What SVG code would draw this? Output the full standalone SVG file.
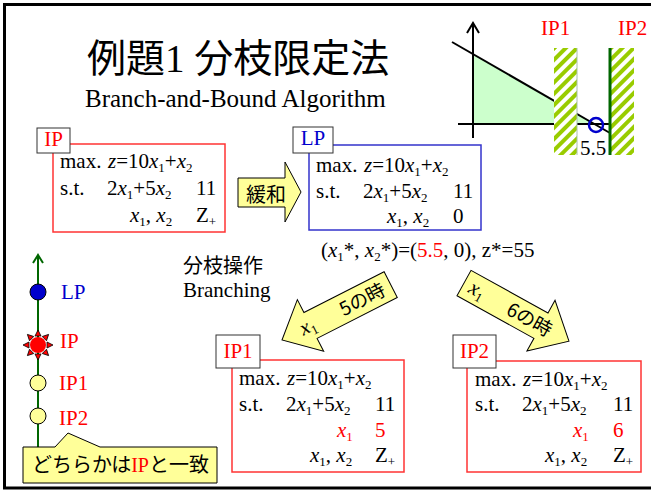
<svg xmlns="http://www.w3.org/2000/svg" width="651" height="490" viewBox="0 0 651 490">
<style>
.serif{font-family:"Liberation Serif","Times New Roman",serif}
.jp{font-family:"Noto Sans CJK JP","Noto Sans CJK SC",sans-serif}
.f{font-family:"Liberation Serif","Times New Roman",serif;font-size:21px;fill:#000}
.i{font-style:italic}
.sb{font-size:13px;font-style:normal}
.red{fill:#ff0000}
.blue{fill:#0000cc}
.boxr{fill:#fff;stroke:#ff3333;stroke-width:1.5}
.boxb{fill:#fff;stroke:#3333cc;stroke-width:1.5}
.lbl{fill:#fff;stroke:#333;stroke-width:1}
.yel{fill:#ffff99;stroke:#000;stroke-width:1}
.ax{stroke:#000;stroke-width:2;fill:none}
</style>
<defs>
<pattern id="hatch" width="8" height="8" patternUnits="userSpaceOnUse" patternTransform="rotate(45)">
<rect width="8" height="8" fill="#fff"/>
<rect width="4" height="8" fill="#99cc00"/>
</pattern>
</defs>
<rect x="0" y="0" width="651" height="490" fill="#fff"/>
<rect x="4.5" y="4.5" width="660" height="483.5" fill="none" stroke="#000" stroke-width="3"/>

<g id="title">
<text x="87" y="72" class="jp" font-size="39">例題<tspan class="serif">1 </tspan>分枝限定法</text>
<text x="85" y="107" class="serif" font-size="25">Branch-and-Bound Algorithm</text>
</g>

<g id="graph">
<polygon points="473,54 594,124 473,124" fill="#ccffcc"/>
<line x1="452" y1="42" x2="610" y2="133" class="ax"/>
<line x1="458" y1="124" x2="610" y2="124" class="ax"/>
<line x1="473" y1="23" x2="473" y2="138" class="ax"/>
<polyline points="467,33 473,23 479,33" class="ax"/>
<rect x="554" y="48" width="23" height="107" fill="url(#hatch)"/>
<line x1="577" y1="48" x2="577" y2="155" stroke="#a8c0a8" stroke-width="1"/>
<rect x="611" y="48" width="23" height="107" fill="url(#hatch)"/>
<line x1="610" y1="48" x2="610" y2="155" stroke="#006600" stroke-width="3"/>
<circle cx="596" cy="125" r="7" fill="none" stroke="#0000cc" stroke-width="2.5"/>
<text x="580" y="155" class="f" font-size="20">5.5</text>
<text x="541" y="35" class="f red" font-size="20">IP1</text>
<text x="618" y="35" class="f red" font-size="20">IP2</text>
</g>

<g id="node-IP">
<rect x="53" y="144" width="172" height="88" class="boxr"/>
<rect x="37" y="128" width="33" height="25" class="lbl"/>
<text x="53.5" y="146" class="f red" text-anchor="middle">IP</text>
<text x="60" y="168" class="f">max.</text>
<text x="108" y="168" class="f"><tspan class="i">z</tspan>=10<tspan class="i">x</tspan><tspan class="sb" dy="4">1</tspan><tspan dy="-4">+</tspan><tspan class="i">x</tspan><tspan class="sb" dy="4">2</tspan></text>
<text x="60" y="195" class="f">s.t.</text>
<text x="107" y="195" class="f">2<tspan class="i">x</tspan><tspan class="sb" dy="4">1</tspan><tspan dy="-4">+5</tspan><tspan class="i">x</tspan><tspan class="sb" dy="4">2</tspan></text>
<text x="196" y="195" class="f">11</text>
<text x="130" y="222" class="f"><tspan class="i">x</tspan><tspan class="sb" dy="4">1</tspan><tspan dy="-4">, </tspan><tspan class="i">x</tspan><tspan class="sb" dy="4">2</tspan></text>
<text x="196" y="222" class="f">Z<tspan class="sb" dy="4">+</tspan></text>
</g>

<g id="node-LP">
<rect x="309" y="145" width="172" height="85" class="boxb"/>
<rect x="293" y="127" width="40" height="26" class="lbl"/>
<text x="313" y="145" class="f blue" text-anchor="middle">LP</text>
<text x="316" y="172" class="f">max.</text>
<text x="364" y="172" class="f"><tspan class="i">z</tspan>=10<tspan class="i">x</tspan><tspan class="sb" dy="4">1</tspan><tspan dy="-4">+</tspan><tspan class="i">x</tspan><tspan class="sb" dy="4">2</tspan></text>
<text x="316" y="198" class="f">s.t.</text>
<text x="363" y="198" class="f">2<tspan class="i">x</tspan><tspan class="sb" dy="4">1</tspan><tspan dy="-4">+5</tspan><tspan class="i">x</tspan><tspan class="sb" dy="4">2</tspan></text>
<text x="453" y="198" class="f">11</text>
<text x="387" y="223" class="f"><tspan class="i">x</tspan><tspan class="sb" dy="4">1</tspan><tspan dy="-4">, </tspan><tspan class="i">x</tspan><tspan class="sb" dy="4">2</tspan></text>
<text x="453" y="223" class="f">0</text>
<text x="321" y="257" class="f">(<tspan class="i">x</tspan><tspan class="sb" dy="4">1</tspan><tspan dy="-4">*, </tspan><tspan class="i">x</tspan><tspan class="sb" dy="4">2</tspan><tspan dy="-4">*)=(</tspan><tspan class="red">5.5</tspan>, 0), z*=55</text>
</g>

<g id="node-IP1">
<rect x="232" y="360" width="172" height="112" class="boxr"/>
<rect x="216" y="335" width="44" height="33" class="lbl"/>
<text x="238" y="358" class="f red" text-anchor="middle">IP1</text>
<text x="239" y="385" class="f">max.</text>
<text x="287" y="385" class="f"><tspan class="i">z</tspan>=10<tspan class="i">x</tspan><tspan class="sb" dy="4">1</tspan><tspan dy="-4">+</tspan><tspan class="i">x</tspan><tspan class="sb" dy="4">2</tspan></text>
<text x="239" y="411" class="f">s.t.</text>
<text x="286" y="411" class="f">2<tspan class="i">x</tspan><tspan class="sb" dy="4">1</tspan><tspan dy="-4">+5</tspan><tspan class="i">x</tspan><tspan class="sb" dy="4">2</tspan></text>
<text x="375" y="411" class="f">11</text>
<text x="337" y="437" class="f red"><tspan class="i">x</tspan><tspan class="sb" dy="4">1</tspan></text>
<text x="375" y="437" class="f red">5</text>
<text x="310" y="462" class="f"><tspan class="i">x</tspan><tspan class="sb" dy="4">1</tspan><tspan dy="-4">, </tspan><tspan class="i">x</tspan><tspan class="sb" dy="4">2</tspan></text>
<text x="375" y="462" class="f">Z<tspan class="sb" dy="4">+</tspan></text>
</g>

<g id="node-IP2">
<rect x="467" y="361" width="174" height="111" class="boxr"/>
<rect x="453" y="335" width="43" height="33" class="lbl"/>
<text x="474.5" y="358" class="f red" text-anchor="middle">IP2</text>
<text x="475" y="386" class="f">max.</text>
<text x="523" y="386" class="f"><tspan class="i">z</tspan>=10<tspan class="i">x</tspan><tspan class="sb" dy="4">1</tspan><tspan dy="-4">+</tspan><tspan class="i">x</tspan><tspan class="sb" dy="4">2</tspan></text>
<text x="475" y="411" class="f">s.t.</text>
<text x="522" y="411" class="f">2<tspan class="i">x</tspan><tspan class="sb" dy="4">1</tspan><tspan dy="-4">+5</tspan><tspan class="i">x</tspan><tspan class="sb" dy="4">2</tspan></text>
<text x="613" y="411" class="f">11</text>
<text x="573" y="437" class="f red"><tspan class="i">x</tspan><tspan class="sb" dy="4">1</tspan></text>
<text x="613" y="437" class="f red">6</text>
<text x="545" y="462" class="f"><tspan class="i">x</tspan><tspan class="sb" dy="4">1</tspan><tspan dy="-4">, </tspan><tspan class="i">x</tspan><tspan class="sb" dy="4">2</tspan></text>
<text x="613" y="462" class="f">Z<tspan class="sb" dy="4">+</tspan></text>
</g>

<g id="connectors">
<g id="relax-arrow">
<path d="M238,178 H285 V162 L301,192 L285,222 V207 H238 Z" class="yel"/>
<text x="266" y="202" class="jp" font-size="20" text-anchor="middle">緩和</text>
</g>
<g id="branch-IP1" transform="translate(282,340) rotate(-27)">
<path d="M0,0 L32,-29 L32,-14.5 L122,-14.5 L122,14.5 L32,14.5 L32,29 Z" class="yel"/>
<text x="29" y="6" class="f i" font-size="19" text-anchor="middle">x<tspan class="sb" dy="4">1</tspan></text>
<text x="90" y="7" class="jp" font-size="19" text-anchor="middle">5の時</text>
</g>
<g id="branch-IP2" transform="translate(464,283) rotate(29)">
<path d="M0,-14.5 L88,-14.5 L88,-29 L120,0 L88,29 L88,14.5 L0,14.5 Z" class="yel"/>
<text x="15" y="6" class="f i" font-size="19" text-anchor="middle">x<tspan class="sb" dy="4">1</tspan></text>
<text x="75" y="7" class="jp" font-size="19" text-anchor="middle">6の時</text>
</g>
</g>

<g id="branching-label">
<text x="183" y="273" class="jp" font-size="20">分枝操作</text>
<text x="183" y="297" class="serif" font-size="21">Branching</text>
</g>

<g id="legend">
<line x1="38" y1="255" x2="38" y2="450" stroke="#006600" stroke-width="2"/>
<polyline points="33,263 38,255 43,263" fill="none" stroke="#006600" stroke-width="2"/>
<circle cx="38" cy="292" r="8" fill="#0000cc" stroke="#000" stroke-width="1"/>
<text x="61" y="299" class="f blue">LP</text>
<g id="star" transform="translate(38,345)" fill="#ff0000" stroke="#000" stroke-width="0.8">
<g id="ray"><polygon points="-3,-9 3,-9 0,-15"/></g>
<use href="#ray" transform="rotate(45)"/>
<use href="#ray" transform="rotate(90)"/>
<use href="#ray" transform="rotate(135)"/>
<use href="#ray" transform="rotate(180)"/>
<use href="#ray" transform="rotate(225)"/>
<use href="#ray" transform="rotate(270)"/>
<use href="#ray" transform="rotate(315)"/>
<circle cx="0" cy="0" r="8" stroke="none"/>
</g>
<text x="60" y="348" class="f red">IP</text>
<circle cx="38" cy="383" r="8" fill="#ffff99" stroke="#000" stroke-width="1"/>
<text x="59" y="390" class="f red">IP1</text>
<circle cx="38" cy="416" r="8" fill="#ffff99" stroke="#000" stroke-width="1"/>
<text x="59" y="425" class="f red">IP2</text>
</g>

<g id="callout">
<path d="M23,447 H55 L68,433 L100,447 H217 V483 H23 Z" class="yel"/>
<text x="32" y="472" class="jp" font-size="20">どちらかは<tspan class="serif red">IP</tspan>と一致</text>
</g>
</svg>
